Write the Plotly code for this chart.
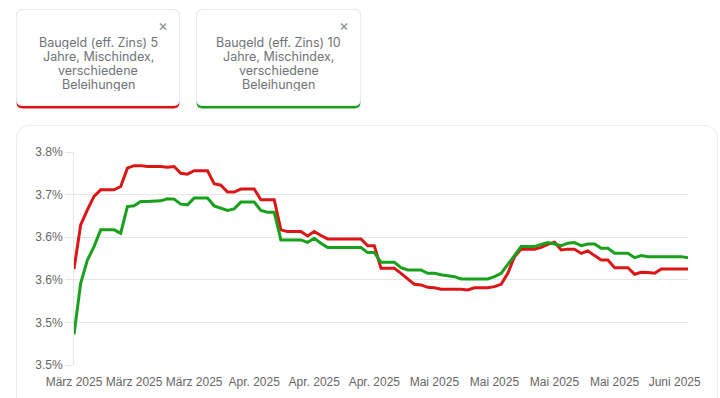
import pandas as pd
import plotly.graph_objects as go

# ---------------- data ----------------
dates = pd.date_range("2025-03-10", periods=93, freq="D")

zins_5 = [
    3.6125, 3.6645, 3.682, 3.698, 3.7056, 3.7056, 3.7056, 3.7095, 3.731, 3.734,
    3.734, 3.733, 3.733, 3.733, 3.732, 3.733, 3.725, 3.724, 3.728, 3.728,
    3.728, 3.7127, 3.711, 3.703, 3.703, 3.7065, 3.7065, 3.7065, 3.694, 3.694,
    3.694, 3.6586, 3.6566, 3.6566, 3.6566, 3.6515, 3.6566, 3.652, 3.648, 3.648,
    3.648, 3.648, 3.648, 3.648, 3.640, 3.640, 3.6135, 3.6135, 3.6135, 3.6076,
    3.601, 3.5947, 3.594, 3.5912, 3.5907, 3.589, 3.5888, 3.589, 3.589, 3.588,
    3.5907, 3.5907, 3.5907, 3.592, 3.5947, 3.6076, 3.627, 3.636, 3.636, 3.636,
    3.638, 3.6415, 3.644, 3.635, 3.636, 3.636, 3.631, 3.634, 3.6284, 3.6233,
    3.6233, 3.6142, 3.6142, 3.6142, 3.6065, 3.6088, 3.6085, 3.6076, 3.6127, 3.6127,
    3.6127, 3.6127, 3.6127,
]

zins_10 = [
    3.536, 3.596, 3.623, 3.639, 3.6586, 3.6586, 3.6586, 3.6547, 3.686, 3.6868,
    3.692, 3.692, 3.6925, 3.6927, 3.695, 3.6947, 3.6888, 3.688, 3.6959, 3.6959,
    3.6959, 3.6868, 3.6841, 3.6813, 3.6833, 3.6912, 3.6912, 3.6912, 3.6813, 3.6794,
    3.6794, 3.6468, 3.6468, 3.6468, 3.6468, 3.644, 3.6488, 3.643, 3.6378, 3.6378,
    3.6378, 3.6378, 3.6378, 3.6378, 3.6319, 3.6319, 3.6206, 3.6206, 3.6206, 3.6142,
    3.6115, 3.6115, 3.6115, 3.6076, 3.6076, 3.606, 3.6045, 3.6037, 3.601, 3.601,
    3.601, 3.601, 3.601, 3.6037, 3.6076, 3.618, 3.629, 3.639, 3.639, 3.639,
    3.6415, 3.6437, 3.642, 3.640, 3.643, 3.6437, 3.640, 3.642, 3.642, 3.637,
    3.637, 3.6312, 3.6312, 3.6312, 3.626, 3.6284, 3.6272, 3.6272, 3.6272, 3.6272,
    3.6272, 3.6272, 3.626,
]

series_names = [
    "Baugeld (eff. Zins) 5 Jahre, Mischindex, verschiedene Beleihungen",
    "Baugeld (eff. Zins) 10 Jahre, Mischindex, verschiedene Beleihungen",
]
card_lines = [
    ["Baugeld (eff. Zins) 5", "Jahre, Mischindex,", "verschiedene", "Beleihungen"],
    ["Baugeld (eff. Zins) 10", "Jahre, Mischindex,", "verschiedene", "Beleihungen"],
]
series_colors = ["#dc1616", "#19a01c"]

y_tick_vals = [3.50, 3.55, 3.60, 3.65, 3.70, 3.75]
y_tick_text = ["3.5%", "3.5%", "3.6%", "3.6%", "3.7%", "3.8%"]

x_tick_dates = list(dates[::9])
x_tick_text = ["März 2025", "März 2025", "März 2025", "Apr. 2025", "Apr. 2025",
               "Apr. 2025", "Mai 2025", "Mai 2025", "Mai 2025", "Mai 2025", "Juni 2025"]

# ---------------- layout geometry (pixels) ----------------
FW, FH = 720, 398
ML, MR, MT, MB = 74, 32, 152, 33
PW, PH = FW - ML - MR, FH - MT - MB


def to_paper(x, y):
    return (x - ML) / PW, (FH - MB - y) / PH


def rounded_path(x0, y0, x1, y1, r):
    def P(x, y):
        px, py = to_paper(x, y)
        return f"{px:.5f},{py:.5f}"
    return (f"M {P(x0 + r, y0)} L {P(x1 - r, y0)} Q {P(x1, y0)} {P(x1, y0 + r)} "
            f"L {P(x1, y1 - r)} Q {P(x1, y1)} {P(x1 - r, y1)} "
            f"L {P(x0 + r, y1)} Q {P(x0, y1)} {P(x0, y1 - r)} "
            f"L {P(x0, y0 + r)} Q {P(x0, y0)} {P(x0 + r, y0)} Z")


fig = go.Figure()
for name, vals, col in zip(series_names, [zins_5, zins_10], series_colors):
    fig.add_trace(go.Scatter(
        x=dates, y=vals, mode="lines", name=name,
        line=dict(color=col, width=3), showlegend=False,
    ))

shapes = []
annotations = []

# chart card
shapes.append(dict(type="path", xref="paper", yref="paper", layer="below",
                   path=rounded_path(16.5, 125.5, 717.5, 430, 14),
                   fillcolor="white", line=dict(color="#ececec", width=1)))

# legend cards
cards = [(16.5, 179.5), (196.5, 360.5)]
for (cx0, cx1), lines, col in zip(cards, card_lines, series_colors):
    shapes.append(dict(type="path", xref="paper", yref="paper", layer="below",
                       path=rounded_path(cx0, 9.5, cx1, 108.5, 6),
                       fillcolor=col, line=dict(color="rgba(0,0,0,0)", width=0)))
    shapes.append(dict(type="path", xref="paper", yref="paper", layer="below",
                       path=rounded_path(cx0, 9.5, cx1, 105.5, 6),
                       fillcolor="white", line=dict(color="#ededed", width=1)))
    xc = (cx0 + cx1) / 2
    for i, t in enumerate(lines):
        ax, ay = to_paper(xc, 42.5 + i * 14)
        annotations.append(dict(xref="paper", yref="paper", x=ax, y=ay, text=t,
                                showarrow=False, xanchor="center", yanchor="middle",
                                height=13, borderpad=0,
                                font=dict(family="Inter, Roboto, sans-serif", size=12.5,
                                          color="#6f7277")))
    bx, by = to_paper(cx1 - 17, 25.5)
    annotations.append(dict(xref="paper", yref="paper", x=bx, y=by, text="×",
                            showarrow=False, xanchor="center", yanchor="middle",
                            font=dict(family="Inter, Roboto, sans-serif", size=15,
                                      color="#8a8d92")))

grid_col = "#e6e6e6"
fig.update_layout(
    width=FW, height=FH,
    margin=dict(l=ML, r=MR, t=MT, b=MB, pad=0, autoexpand=False),
    paper_bgcolor="white", plot_bgcolor="rgba(0,0,0,0)",
    shapes=shapes, annotations=annotations,
    font=dict(family="Liberation Sans, Arial, sans-serif", size=12, color="#666666"),
    xaxis=dict(
        range=[dates[0], dates[-1]], tickmode="array",
        tickvals=x_tick_dates, ticktext=x_tick_text,
        showgrid=False, zeroline=False, showline=False, ticks="",
        ticklabelstandoff=8, automargin=False,
        tickfont=dict(family="Liberation Sans, Arial, sans-serif", size=12, color="#666666"),
    ),
    yaxis=dict(
        range=[3.5, 3.75], tickmode="array",
        tickvals=y_tick_vals, ticktext=y_tick_text,
        showgrid=True, gridcolor=grid_col, gridwidth=1, zeroline=False,
        showline=True, linecolor=grid_col, linewidth=1,
        ticks="outside", ticklen=8, tickcolor=grid_col, automargin=False,
        tickfont=dict(family="Liberation Sans, Arial, sans-serif", size=12, color="#666666"),
    ),
)

fig.write_html("out.html", config={"displayModeBar": False},
               post_script="document.body.style.margin='0px';")
